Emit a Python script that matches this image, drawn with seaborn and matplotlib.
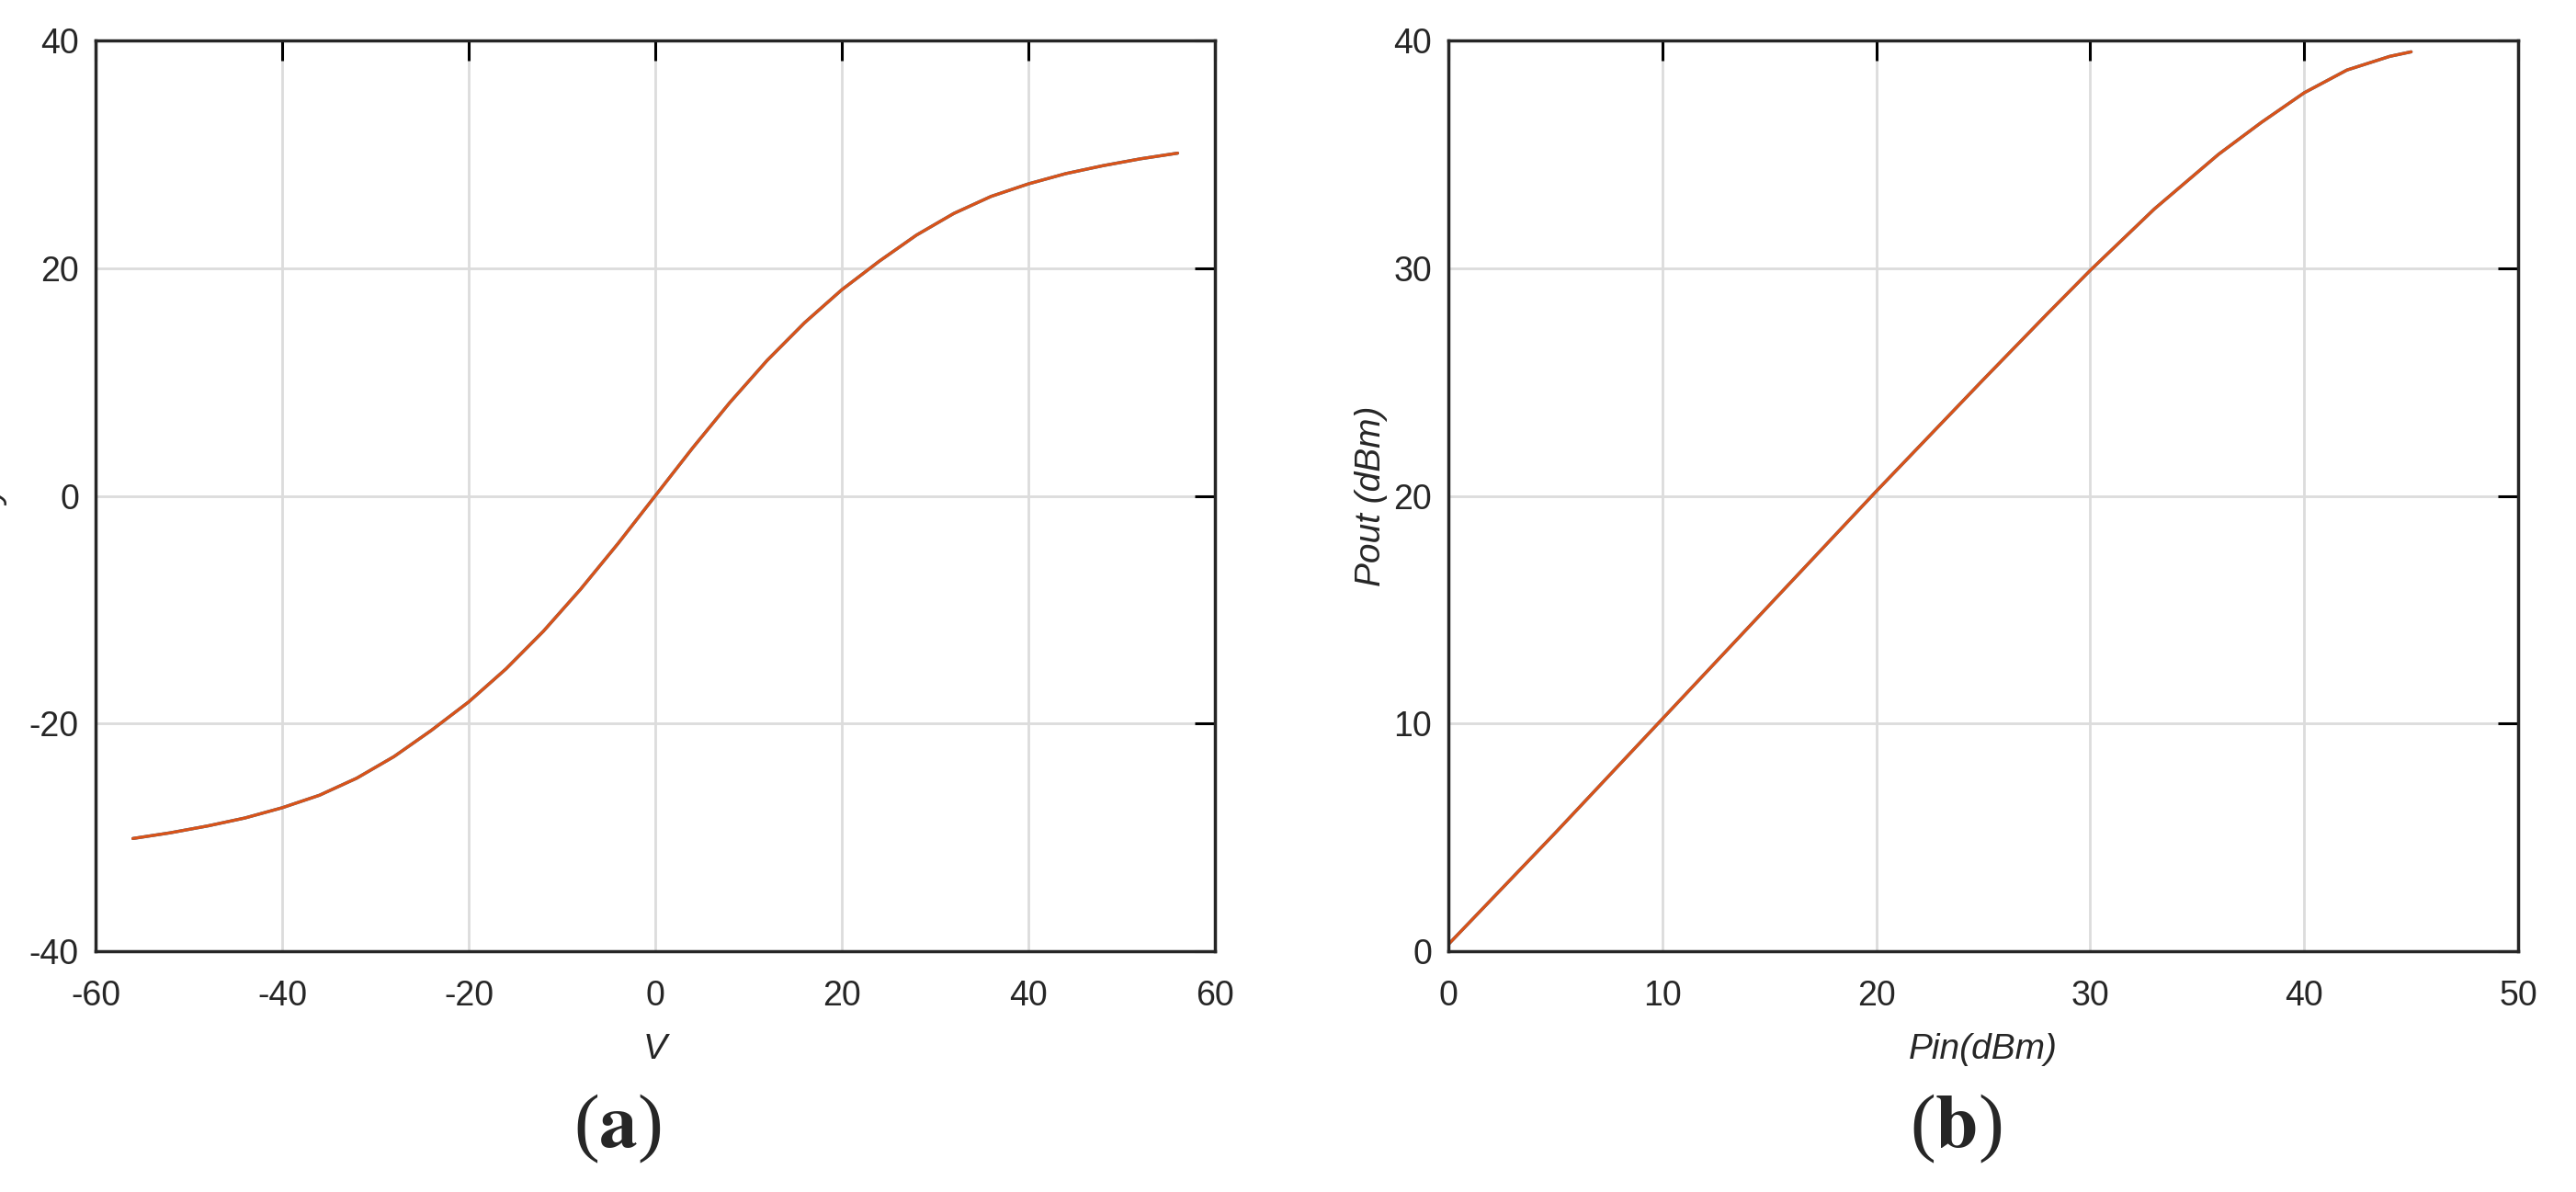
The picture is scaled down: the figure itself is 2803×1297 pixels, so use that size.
import matplotlib
matplotlib.use("Agg")
import matplotlib.pyplot as plt
import numpy as np
import pandas as pd
import seaborn as sns

# panel (a): AM/AM characteristic
v_in = [-56, -52, -48, -44, -40, -36, -32, -28, -24, -20, -16, -12, -8, -4,
        0, 4, 8, 12, 16, 20, 24, 28, 32, 36, 40, 44, 48, 52, 56]
v_out = [-30.1, -29.6, -29.0, -28.3, -27.4, -26.3, -24.8, -22.9, -20.6, -18.1,
         -15.2, -11.9, -8.2, -4.2,
         0.0, 4.2, 8.2, 11.9, 15.2, 18.1, 20.6, 22.9, 24.8, 26.3, 27.4, 28.3,
         29.0, 29.6, 30.1]

# panel (b): Pout vs Pin
pin = [0, 5, 10, 15, 20, 25, 28, 30, 33, 36, 38, 40, 42, 44, 45]
pout = [0.3, 5.2, 10.2, 15.2, 20.2, 25.1, 28.0, 29.9, 32.6, 35.0, 36.4, 37.7,
        38.7, 39.3, 39.5]

blue = "#0072BD"
orange = "#D95319"

sns.set_style("white")
plt.rcParams["font.family"] = ["Liberation Sans", "DejaVu Sans"]
plt.rcParams["mathtext.fontset"] = "stix"
plt.rcParams["axes.unicode_minus"] = False

fig = plt.figure(figsize=(28.03, 12.97), dpi=100)
ax_a = fig.add_axes([104 / 2803, 1 - 1035 / 1297, 1218 / 2803, 991 / 1297])
ax_b = fig.add_axes([1576 / 2803, 1 - 1035 / 1297, 1164 / 2803, 991 / 1297])

df_a = pd.DataFrame({"V": v_in, "out": v_out})
df_b = pd.DataFrame({"Pin": pin, "Pout": pout})

for ax, df, x, y in [(ax_a, df_a, "V", "out"), (ax_b, df_b, "Pin", "Pout")]:
    sns.lineplot(data=df, x=x, y=y, ax=ax, color=blue, lw=2.4)
    sns.lineplot(data=df, x=x, y=y, ax=ax, color=orange, lw=2.4)

ax_a.set_xlim(-60, 60)
ax_a.set_ylim(-40, 40)
ax_a.set_xticks(np.arange(-60, 61, 20))
ax_a.set_yticks(np.arange(-40, 41, 20))

ax_b.set_xlim(0, 50)
ax_b.set_ylim(0, 40)
ax_b.set_xticks(np.arange(0, 51, 10))
ax_b.set_yticks(np.arange(0, 41, 10))

for ax in (ax_a, ax_b):
    ax.grid(True, color="#DCDCDC", lw=2)
    ax.set_axisbelow(True)
    for s in ax.spines.values():
        s.set_visible(True)
        s.set_color("#262626")
        s.set_linewidth(2.5)
    ax.tick_params(direction="in", length=16, width=2.2, color="black",
                   top=True, right=True, labelsize=27, labelcolor="#262626")
    ax.tick_params(axis="x", pad=22)
    ax.tick_params(axis="y", pad=13)

ax_a.set_xlabel("V", fontsize=28, style="italic", color="#262626", va="center")
ax_a.xaxis.set_label_coords(0.5, -0.108)
ax_a.set_ylabel("")

ax_b.set_xlabel("Pin(dBm)", fontsize=28, style="italic", color="#262626", va="center")
ax_b.xaxis.set_label_coords(0.5, -0.108)
ax_b.set_ylabel("Pout (dBm)", fontsize=28, style="italic", color="#262626", va="center")
ax_b.yaxis.set_label_coords(-0.072, 0.5)

# y label of panel (a), cut off at the left edge as in the source figure
fig.text(10 / 2803, 1 - 540 / 1297, "y", rotation=90, ha="right", va="center",
         fontsize=28, style="italic", color="#262626")

fig.text(672 / 2803, 1 - 1228 / 1297, r"($\mathbf{a}$)", ha="center", va="center",
         fontsize=60, family="Liberation Serif")
fig.text(2128 / 2803, 1 - 1228 / 1297, r"($\mathbf{b}$)", ha="center", va="center",
         fontsize=60, family="Liberation Serif")

fig.savefig("out.png", dpi=100, facecolor="white")
